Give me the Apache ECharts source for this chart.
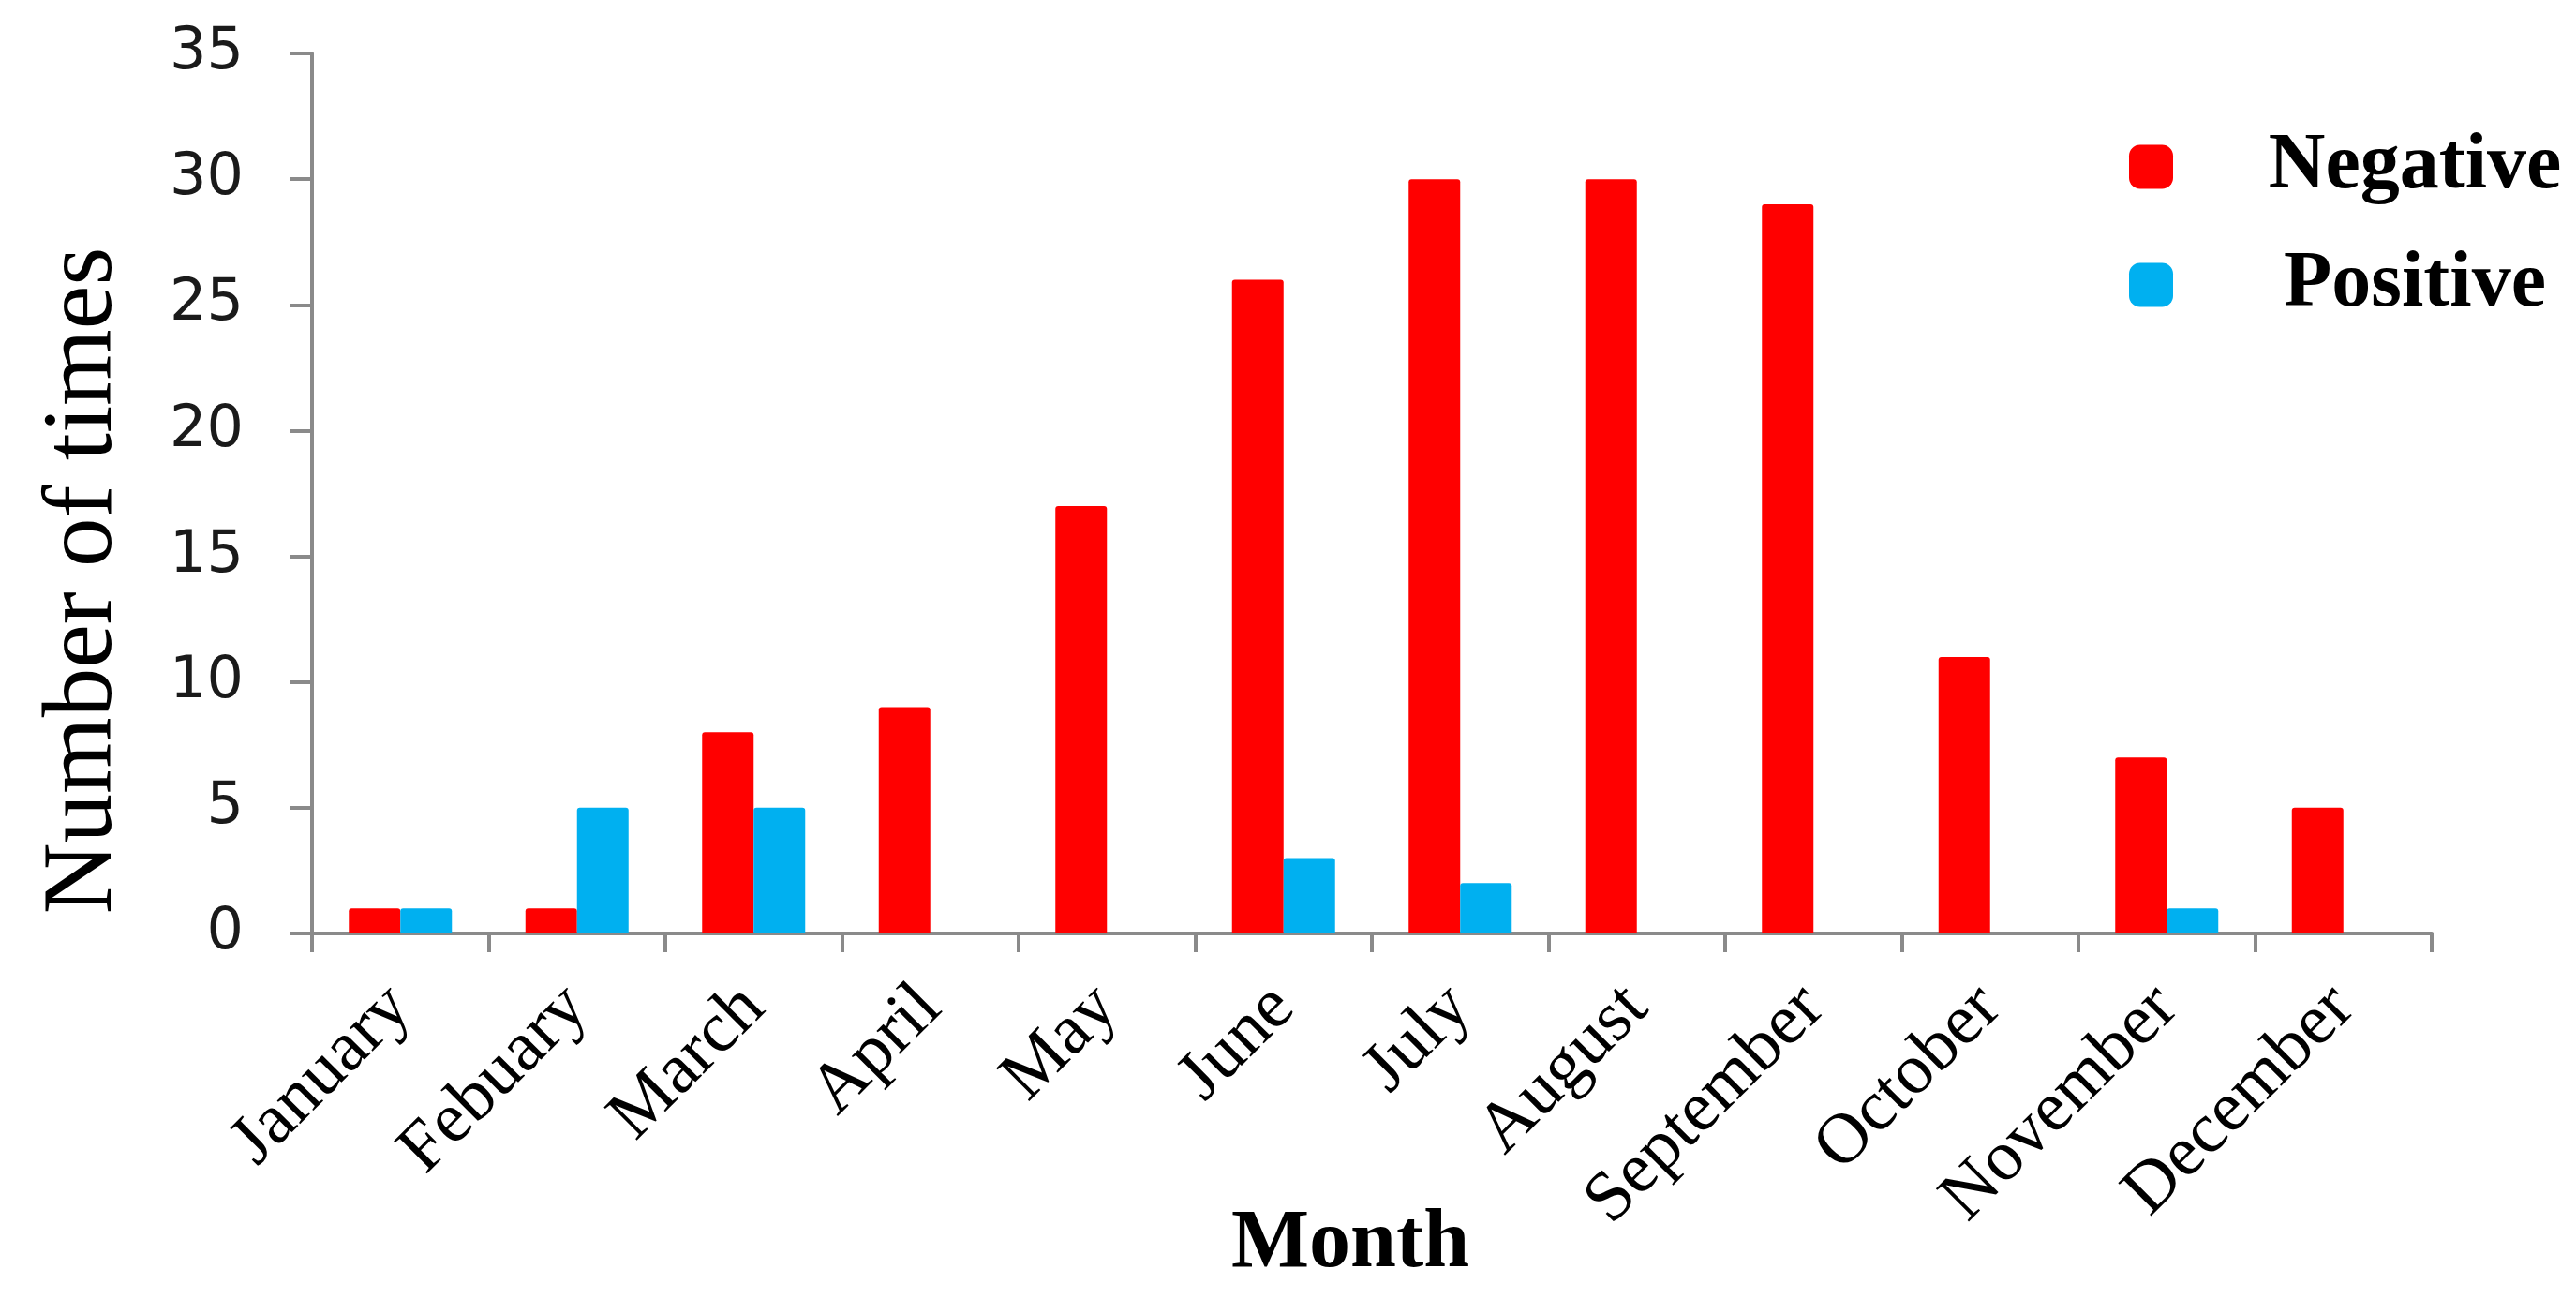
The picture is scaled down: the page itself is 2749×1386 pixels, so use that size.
<!DOCTYPE html>
<html>
<head>
<meta charset="utf-8">
<title>Month chart</title>
<script src="https://cdn.jsdelivr.net/npm/echarts@6/dist/echarts.min.js"></script>
<style>
    html, body { margin: 0; padding: 0; background: #fff; }
    #chart { width: 2749px; height: 1386px; }
</style>
</head>
<body>
<div id="chart"></div>
<script>
// 月份（原图拼写保留）
var months = ['January', 'Febuary', 'March', 'April', 'May', 'June', 'July', 'August', 'September', 'October', 'November', 'December'];

// 每月次数
var negativeValues = [1, 1, 8, 9, 17, 26, 30, 30, 29, 11, 7, 5];
var positiveValues = [1, 5, 5, 0, 0, 3, 2, 0, 0, 0, 1, 0];

// 图例名
var seriesNames = ['Negative', 'Positive'];

(function () {
    var axisGray = '#8a8a8a';

    var option = {
        backgroundColor: '#ffffff',
        animation: false,
        grid: {
            left: 333,
            right: 154,
            top: 57,
            bottom: 390,
            outerBoundsMode: 'none'  // 不让标签把绘图区挤小
        },
        legend: {
            orient: 'vertical',
            left: 2267,
            top: 131,
            itemWidth: 47,
            itemHeight: 47,
            itemGap: 42,
            icon: 'roundRect',
            data: seriesNames,
            formatter: '{t|{name}}',
            textStyle: {
                rich: {
                    t: {
                        width: 506,
                        align: 'center',
                        fontFamily: 'Liberation Serif',
                        fontWeight: 'bold',
                        fontSize: 84,
                        lineHeight: 84,
                        color: '#000'
                    }
                }
            }
        },
        xAxis: {
            type: 'category',
            data: months,
            name: 'Month',
            nameLocation: 'middle',
            nameGap: 288,
            nameMoveOverlap: false,
            nameTextStyle: {
                fontFamily: 'Liberation Serif',
                fontWeight: 'bold',
                fontSize: 88,
                color: '#000',
                padding: [0, 46, 0, 0]   // 往左挪一点
            },
            axisLine: { show: true, lineStyle: { color: axisGray, width: 4 } },
            axisTick: { show: true, length: 20, lineStyle: { color: axisGray, width: 4 } },
            axisLabel: {
                rotate: 45,
                margin: 68,
                interval: 0,
                fontFamily: 'Liberation Serif',
                fontSize: 76,
                color: '#000'
            }
        },
        yAxis: {
            type: 'value',
            min: 0,
            max: 35,
            interval: 5,
            name: 'Number of times',
            nameLocation: 'middle',
            nameGap: 190,
            nameMoveOverlap: false,
            nameTextStyle: {
                fontFamily: 'Liberation Serif',
                fontSize: 105,
                color: '#000',
                padding: [0, 186, 0, 0]  // 往下挪一点
            },
            splitLine: { show: false },
            axisLine: { show: true, lineStyle: { color: axisGray, width: 4 } },
            axisTick: { show: true, length: 23, lineStyle: { color: axisGray, width: 4 } },
            axisLabel: {
                margin: 73,
                fontFamily: 'DejaVu Sans',
                fontSize: 62,
                color: '#1a1a1a'
            }
        },
        series: [
            {
                name: seriesNames[0],
                type: 'bar',
                data: negativeValues,
                barWidth: 55,
                barGap: '0%',
                itemStyle: { color: '#ff0000', borderRadius: [3, 3, 0, 0] }
            },
            {
                name: seriesNames[1],
                type: 'bar',
                data: positiveValues,
                barWidth: 55,
                barGap: '0%',
                itemStyle: { color: '#00b0f0', borderRadius: [3, 3, 0, 0] }
            }
        ]
    };

    var myechart = echarts.init(document.getElementById('chart'));
    myechart.setOption(option);

    window.addEventListener('resize', function () {
        myechart.resize();
    });
})();
</script>
</body>
</html>
